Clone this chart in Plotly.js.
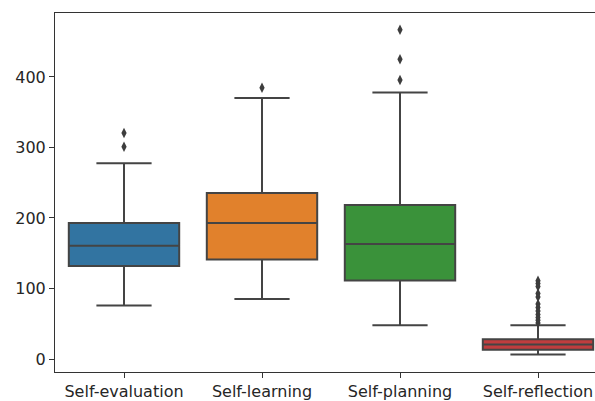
<!DOCTYPE html>
<html>
<head>
<meta charset="utf-8">
<script src="https://cdn.plot.ly/plotly-3.0.1.min.js"></script>
<style>
  html, body { margin: 0; padding: 0; background: #fff; overflow: hidden; width: 595px; height: 401px; }
  #chart { width: 615px; height: 401px; }
</style>
</head>
<body>
<div id="chart"></div>
<script>
// Five-number summaries per category (whisker ends, quartiles, median)
const categories  = ["Self-evaluation", "Self-learning", "Self-planning", "Self-reflection"];
const lowerWhisk  = [76, 85, 48, 6.5];
const q1Values    = [132, 141, 111.5, 13];
const medians     = [160.5, 193, 163, 20.5];
const q3Values    = [193, 235.5, 218.5, 28];
const upperWhisk  = [277.5, 370, 378, 48];
const boxColors   = ["#3274a1", "#e1812c", "#3a923a", "#c03d3e"];

// Points beyond the whiskers
const outlierCats = [
  "Self-evaluation", "Self-evaluation",
  "Self-learning",
  "Self-planning", "Self-planning", "Self-planning",
  "Self-reflection", "Self-reflection", "Self-reflection", "Self-reflection",
  "Self-reflection", "Self-reflection", "Self-reflection", "Self-reflection",
  "Self-reflection", "Self-reflection", "Self-reflection", "Self-reflection"
];
const outlierVals = [
  301, 320.5,
  384.5,
  395.5, 425, 467,
  111, 107, 103, 93, 88, 78, 73, 68, 63, 59, 55, 51
];

const edgeColor = "#444444";

const traces = categories.map((cat, i) => ({
  type: "box",
  x: [cat],
  q1: [q1Values[i]],
  median: [medians[i]],
  q3: [q3Values[i]],
  lowerfence: [lowerWhisk[i]],
  upperfence: [upperWhisk[i]],
  boxpoints: false,
  width: 0.8,
  whiskerwidth: 0.5,
  fillcolor: boxColors[i],
  line: { color: edgeColor, width: 2 },
  showlegend: false,
  hoverinfo: "skip"
}));

traces.push({
  type: "scatter",
  mode: "markers",
  x: outlierCats,
  y: outlierVals,
  marker: { symbol: "diamond-tall", size: 7.5, color: "#3d3d3d", line: { width: 0 } },
  showlegend: false,
  hoverinfo: "skip"
});

const tickFont = { family: "DejaVu Sans", size: 16, color: "#262626" };

const layout = {
  width: 615,
  height: 401,
  margin: { l: 55, r: 8, t: 13, b: 29 },
  paper_bgcolor: "#ffffff",
  plot_bgcolor: "#ffffff",
  boxmode: "overlay",
  font: tickFont,
  xaxis: {
    type: "category",
    categoryorder: "array",
    categoryarray: categories,
    range: [-0.5, 3.5],
    showgrid: false,
    zeroline: false,
    showline: true,
    mirror: true,
    linecolor: "#333333",
    linewidth: 1,
    ticks: "outside",
    ticklen: 5,
    tickwidth: 1,
    tickcolor: "#333333",
    tickfont: tickFont
  },
  yaxis: {
    range: [-18.4, 490.6],
    tickvals: [0, 100, 200, 300, 400],
    showgrid: false,
    zeroline: false,
    showline: true,
    mirror: true,
    linecolor: "#333333",
    linewidth: 1,
    ticks: "outside",
    ticklen: 5,
    tickwidth: 1,
    tickcolor: "#333333",
    tickfont: tickFont
  }
};

Plotly.newPlot("chart", traces, layout, { staticPlot: true, displayModeBar: false });
</script>
</body>
</html>
